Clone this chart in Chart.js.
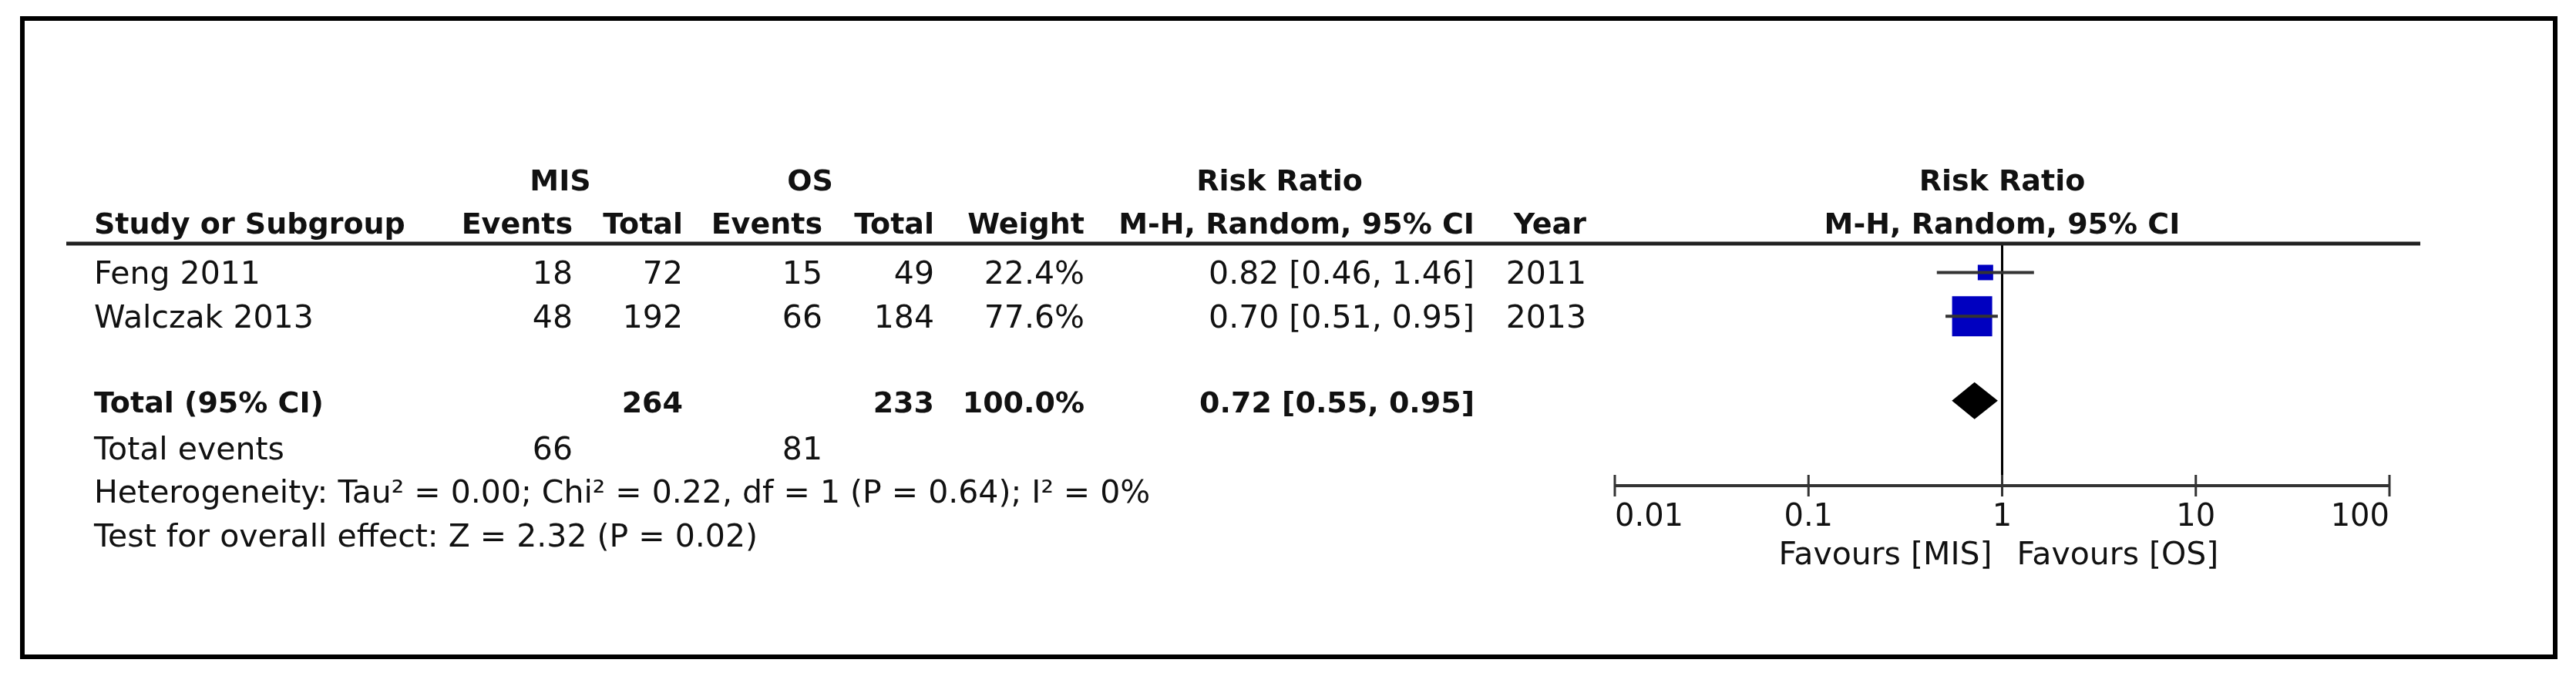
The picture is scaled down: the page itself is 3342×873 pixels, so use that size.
<!DOCTYPE html>
<html>
<head>
<meta charset="utf-8">
<script src="https://cdn.jsdelivr.net/npm/chart.js@4.4.1/dist/chart.umd.min.js"></script>
<style>
  html, body { margin: 0; padding: 0; background: #fff; }
  #wrap { width: 3342px; height: 873px; }
</style>
</head>
<body>
<div id="wrap"><canvas id="forest" width="3342" height="873"></canvas></div>
<script>
// study data
const studies = ['Feng 2011', 'Walczak 2013'];
const misEvents = [18, 48];
const misTotal = [72, 192];
const osEvents = [15, 66];
const osTotal = [49, 184];
const weights = [22.4, 77.6];
const riskRatio = [0.82, 0.70];
const ciLower = [0.46, 0.51];
const ciUpper = [1.46, 0.95];
const years = [2011, 2013];

// pooled result
const totalMis = 264;
const totalOs = 233;
const totalWeight = 100.0;
const pooledRR = 0.72;
const pooledLower = 0.55;
const pooledUpper = 0.95;
const totalEventsMis = 66;
const totalEventsOs = 81;
const heterogeneity = 'Heterogeneity: Tau² = 0.00; Chi² = 0.22, df = 1 (P = 0.64); I² = 0%';
const overallEffect = 'Test for overall effect: Z = 2.32 (P = 0.02)';

// axis
const xTicks = [0.01, 0.1, 1, 10, 100];
const favours = ['Favours [MIS]', 'Favours [OS]'];

// row slots: studies 0..1, blank, total 3, total events 4, heterogeneity 5, test 6
const totalRow = 3;

const ink = '#111';
const fmt = v => v.toFixed(2);
const ciText = (r, l, u) => fmt(r) + ' [' + fmt(l) + ', ' + fmt(u) + ']';

function txt(ctx, s, x, y, align, bold, size) {
  ctx.font = (bold ? 'bold ' : '') + size + 'px "DejaVu Sans"';
  ctx.textAlign = align;
  ctx.textBaseline = 'alphabetic';
  ctx.fillStyle = ink;
  ctx.fillText(s, x, y);
}

const forestPlugin = {
  id: 'forest',
  beforeDatasetsDraw(chart) {
    const { ctx, chartArea, scales } = chart;
    const x1 = scales.x.getPixelForValue(1);
    ctx.save();
    ctx.strokeStyle = '#000';
    ctx.lineWidth = 3;
    ctx.beginPath();
    ctx.moveTo(x1, chartArea.top);
    ctx.lineTo(x1, chartArea.bottom);
    ctx.stroke();
    ctx.restore();
  },
  afterDatasetsDraw(chart) {
    const { ctx, chartArea, scales } = chart;
    const xs = scales.x, ys = scales.y;
    const base = i => ys.getPixelForValue(i) + 15;
    ctx.save();

    // pooled diamond
    const cy = ys.getPixelForValue(totalRow) - 4;
    ctx.fillStyle = '#000';
    ctx.beginPath();
    ctx.moveTo(xs.getPixelForValue(pooledLower), cy);
    ctx.lineTo(xs.getPixelForValue(pooledRR), cy - 24);
    ctx.lineTo(xs.getPixelForValue(pooledUpper), cy);
    ctx.lineTo(xs.getPixelForValue(pooledRR), cy + 24);
    ctx.closePath();
    ctx.fill();

    // header rule
    ctx.strokeStyle = '#222';
    ctx.lineWidth = 5;
    ctx.beginPath();
    ctx.moveTo(86, chartArea.top);
    ctx.lineTo(3140, chartArea.top);
    ctx.stroke();

    // x axis with ticks above and below
    const ab = chartArea.bottom;
    ctx.strokeStyle = '#333';
    ctx.lineWidth = 4;
    ctx.beginPath();
    ctx.moveTo(xs.getPixelForValue(xTicks[0]), ab);
    ctx.lineTo(xs.getPixelForValue(xTicks[xTicks.length - 1]), ab);
    ctx.stroke();
    ctx.lineWidth = 3;
    xTicks.forEach((t, k) => {
      const px = xs.getPixelForValue(t);
      ctx.beginPath();
      ctx.moveTo(px, ab - 14);
      ctx.lineTo(px, ab + 14);
      ctx.stroke();
      const align = k === 0 ? 'left' : (k === xTicks.length - 1 ? 'right' : 'center');
      txt(ctx, String(t), px, ab + 52, align, false, 40);
    });
    const x1 = xs.getPixelForValue(1);
    txt(ctx, favours[0], x1 - 13, ab + 102, 'right', false, 41);
    txt(ctx, favours[1], x1 + 19, ab + 102, 'left', false, 41);

    // table columns
    const col = { name: 122, misE: 743, misT: 886, osE: 1067, osT: 1212, w: 1407, rr: 1913, yr: 2058 };
    const h1 = chartArea.top - 69, h2 = chartArea.top - 13;
    txt(ctx, 'MIS', 727, h1, 'center', true, 38);
    txt(ctx, 'OS', 1051, h1, 'center', true, 38);
    txt(ctx, 'Risk Ratio', 1660, h1, 'center', true, 38);
    txt(ctx, 'Risk Ratio', x1, h1, 'center', true, 38);
    txt(ctx, 'Study or Subgroup', col.name, h2, 'left', true, 38);
    txt(ctx, 'Events', col.misE, h2, 'right', true, 38);
    txt(ctx, 'Total', col.misT, h2, 'right', true, 38);
    txt(ctx, 'Events', col.osE, h2, 'right', true, 38);
    txt(ctx, 'Total', col.osT, h2, 'right', true, 38);
    txt(ctx, 'Weight', col.w, h2, 'right', true, 38);
    txt(ctx, 'M-H, Random, 95% CI', col.rr, h2, 'right', true, 38);
    txt(ctx, 'Year', col.yr, h2, 'right', true, 38);
    txt(ctx, 'M-H, Random, 95% CI', x1, h2, 'center', true, 38);

    studies.forEach((s, i) => {
      const y = base(i);
      txt(ctx, s, col.name, y, 'left', false, 41);
      txt(ctx, String(misEvents[i]), col.misE, y, 'right', false, 41);
      txt(ctx, String(misTotal[i]), col.misT, y, 'right', false, 41);
      txt(ctx, String(osEvents[i]), col.osE, y, 'right', false, 41);
      txt(ctx, String(osTotal[i]), col.osT, y, 'right', false, 41);
      txt(ctx, weights[i].toFixed(1) + '%', col.w, y, 'right', false, 41);
      txt(ctx, ciText(riskRatio[i], ciLower[i], ciUpper[i]), col.rr, y, 'right', false, 41);
      txt(ctx, String(years[i]), col.yr, y, 'right', false, 41);
    });

    const yt = base(totalRow) - 4;
    txt(ctx, 'Total (95% CI)', col.name, yt, 'left', true, 38);
    txt(ctx, String(totalMis), col.misT, yt, 'right', true, 38);
    txt(ctx, String(totalOs), col.osT, yt, 'right', true, 38);
    txt(ctx, totalWeight.toFixed(1) + '%', col.w, yt, 'right', true, 38);
    txt(ctx, ciText(pooledRR, pooledLower, pooledUpper), col.rr, yt, 'right', true, 38);

    const ye = base(totalRow + 1);
    txt(ctx, 'Total events', col.name, ye, 'left', false, 41);
    txt(ctx, String(totalEventsMis), col.misE, ye, 'right', false, 41);
    txt(ctx, String(totalEventsOs), col.osE, ye, 'right', false, 41);
    txt(ctx, heterogeneity, col.name, base(totalRow + 2), 'left', false, 41);
    txt(ctx, overallEffect, col.name, base(totalRow + 3), 'left', false, 41);

    // outer frame
    ctx.strokeStyle = '#000';
    ctx.lineWidth = 6;
    ctx.strokeRect(29, 24, 3286, 828);
    ctx.restore();
  }
};

const ciSets = studies.map((s, i) => ({
  label: s + ' CI',
  data: [{ x: ciLower[i], y: i }, { x: ciUpper[i], y: i }],
  showLine: true,
  borderColor: '#333',
  borderWidth: 4,
  pointRadius: 0
}));

new Chart(document.getElementById('forest'), {
  type: 'scatter',
  data: {
    datasets: [
      ...ciSets,
      {
        label: 'Risk ratio',
        data: riskRatio.map((r, i) => ({ x: r, y: i })),
        pointStyle: 'rect',
        pointRadius: ctx => (7 + 0.58 * weights[ctx.dataIndex]) / Math.SQRT2,
        pointBorderWidth: 0,
        backgroundColor: '#0000c0',
        borderColor: '#0000c0'
      }
    ]
  },
  options: {
    responsive: false,
    animation: false,
    devicePixelRatio: 1,
    layout: { padding: { left: 2095, right: 242, top: 316, bottom: 243 } },
    scales: {
      x: { type: 'logarithmic', min: 0.01, max: 100, display: false },
      y: { type: 'linear', min: -0.66, max: 4.87, reverse: true, display: false }
    },
    plugins: {
      legend: { display: false },
      tooltip: { enabled: false }
    }
  },
  plugins: [forestPlugin]
});
</script>
</body>
</html>
